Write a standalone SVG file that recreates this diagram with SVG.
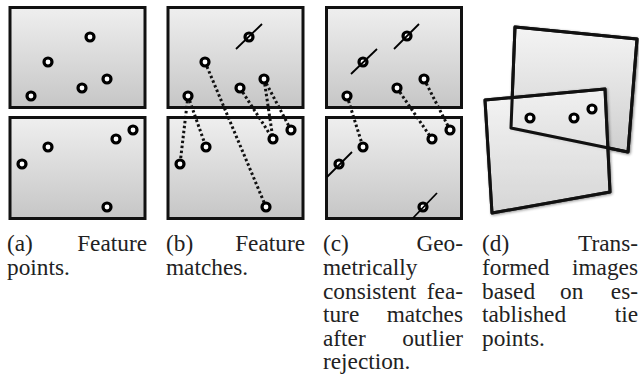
<svg xmlns="http://www.w3.org/2000/svg" width="639" height="377" viewBox="0 0 639 377">
<defs>
<linearGradient id="g" x1="0" y1="0" x2="0" y2="1">
<stop offset="0" stop-color="#efefef"/>
<stop offset="1" stop-color="#c6c6c6"/>
</linearGradient>
<linearGradient id="gd" x1="0" y1="0" x2="0" y2="1">
<stop offset="0" stop-color="#f4f4f4"/>
<stop offset="1" stop-color="#cfcfcf"/>
</linearGradient>
<filter id="sh" x="-10%" y="-10%" width="120%" height="120%">
<feGaussianBlur in="SourceAlpha" stdDeviation="1.5"/>
<feOffset dx="1" dy="1" result="b"/>
<feComponentTransfer><feFuncA type="linear" slope="0.5"/></feComponentTransfer>
<feMerge><feMergeNode/><feMergeNode in="SourceGraphic"/></feMerge>
</filter>
</defs>
<style>
.img{fill:url(#g);stroke:#111;stroke-width:3}
.pt{fill:#fff;stroke:#000;stroke-width:3.2}
.sl{stroke:#000;stroke-width:1.8;fill:none}
.m{stroke:#111;stroke-width:3;stroke-dasharray:2.5 2.5;fill:none}
.q{stroke:#111;stroke-width:3;fill:url(#gd);stroke-linejoin:round}
.qo{stroke:#111;stroke-width:3;fill:none;stroke-linejoin:round}
text{font-family:"Liberation Serif","Times New Roman",serif;font-size:23.3px;fill:#222}
.e{text-anchor:end}
</style>

<g id="panel-a">
<rect class="img" x="10" y="7.5" width="135" height="100"/>
<rect class="img" x="10" y="117.5" width="135" height="101"/>
<circle class="pt" cx="90" cy="37" r="4"/>
<circle class="pt" cx="48" cy="62" r="4"/>
<circle class="pt" cx="107" cy="79" r="4"/>
<circle class="pt" cx="82" cy="88" r="4"/>
<circle class="pt" cx="31" cy="96" r="4"/>
<circle class="pt" cx="48" cy="147" r="4"/>
<circle class="pt" cx="22" cy="164" r="4"/>
<circle class="pt" cx="116" cy="139" r="4"/>
<circle class="pt" cx="133" cy="130" r="4"/>
<circle class="pt" cx="107" cy="207" r="4"/>
</g>

<g id="panel-b-images">
<rect class="img" x="168" y="7.5" width="135" height="100"/>
<rect class="img" x="168" y="117.5" width="135" height="101"/>
</g>
<g id="panel-c-images">
<rect class="img" x="326.5" y="7.5" width="135" height="100"/>
<rect class="img" x="326.5" y="117.5" width="135" height="101"/>
</g>

<g id="connectors">
<line class="m" x1="205" y1="62" x2="266" y2="207"/>
<line class="m" x1="264" y1="79" x2="273" y2="139"/>
<line class="m" x1="264" y1="79" x2="291" y2="130"/>
<line class="m" x1="240" y1="88" x2="273" y2="139"/>
<line class="m" x1="188" y1="96" x2="180" y2="164"/>
<line class="m" x1="188" y1="96" x2="206" y2="147"/>
<line class="m" x1="347" y1="96" x2="363" y2="147"/>
<line class="m" x1="397" y1="88" x2="432" y2="139"/>
<line class="m" x1="424" y1="79" x2="450" y2="130"/>
</g>

<g id="panel-b-points">
<circle class="pt" cx="249" cy="37" r="4"/>
<line class="sl" x1="236" y1="49" x2="262" y2="24"/>
<circle class="pt" cx="205" cy="62" r="4"/>
<circle class="pt" cx="264" cy="79" r="4"/>
<circle class="pt" cx="240" cy="88" r="4"/>
<circle class="pt" cx="188" cy="96" r="4"/>
<circle class="pt" cx="291" cy="130" r="4"/>
<circle class="pt" cx="273" cy="139" r="4"/>
<circle class="pt" cx="206" cy="147" r="4"/>
<circle class="pt" cx="180" cy="164" r="4"/>
<circle class="pt" cx="266" cy="207" r="4"/>
</g>

<g id="panel-c-points">
<circle class="pt" cx="407" cy="36" r="4"/>
<line class="sl" x1="394" y1="49" x2="419" y2="24"/>
<circle class="pt" cx="363" cy="62" r="4"/>
<line class="sl" x1="351" y1="74" x2="377" y2="49"/>
<circle class="pt" cx="347" cy="96" r="4"/>
<circle class="pt" cx="397" cy="88" r="4"/>
<circle class="pt" cx="424" cy="79" r="4"/>
<circle class="pt" cx="450" cy="130" r="4"/>
<circle class="pt" cx="432" cy="139" r="4"/>
<circle class="pt" cx="363" cy="147" r="4"/>
<circle class="pt" cx="339" cy="164" r="4"/>
<line class="sl" x1="327" y1="177" x2="352" y2="152"/>
<circle class="pt" cx="423" cy="207" r="4"/>
<line class="sl" x1="413" y1="218" x2="437" y2="193"/>
</g>

<g id="panel-d">
<polygon class="q" filter="url(#sh)" points="515,27 637,39 628,152 511,128"/>
<polygon class="q" filter="url(#sh)" opacity="0.85" points="485,100 605,89 610,192 492,213"/>
<polygon class="qo" points="515,27 637,39 628,152 511,128"/>
<polygon class="qo" points="485,100 605,89 610,192 492,213"/>
<circle class="pt" cx="530" cy="118" r="4"/>
<circle class="pt" cx="574" cy="118" r="4"/>
<circle class="pt" cx="592" cy="109" r="4"/>
</g>

<g id="caption-a">
<text x="7" y="251">(a)</text><text class="e" x="147" y="251">Feature</text>
<text x="7" y="275">points.</text>
</g>
<g id="caption-b">
<text x="166" y="251">(b)</text><text class="e" x="305" y="251">Feature</text>
<text x="166" y="275">matches.</text>
</g>
<g id="caption-c">
<text x="323" y="251">(c)</text><text class="e" x="463" y="251">Geo-</text>
<text x="323" y="275">metrically</text>
<text x="323" y="298.5">consistent</text><text class="e" x="463" y="298.5">fea-</text>
<text x="323" y="322">ture</text><text class="e" x="463" y="322">matches</text>
<text x="323" y="345.5">after</text><text class="e" x="463" y="345.5">outlier</text>
<text x="323" y="369">rejection.</text>
</g>
<g id="caption-d">
<text x="482" y="251">(d)</text><text class="e" x="638" y="251">Trans-</text>
<text x="482" y="275">formed</text><text class="e" x="638" y="275">images</text>
<text x="482" y="298.5">based</text><text x="560" y="298.5">on</text><text class="e" x="638" y="298.5">es-</text>
<text x="482" y="322">tablished</text><text class="e" x="638" y="322">tie</text>
<text x="482" y="345.5">points.</text>
</g>
</svg>
